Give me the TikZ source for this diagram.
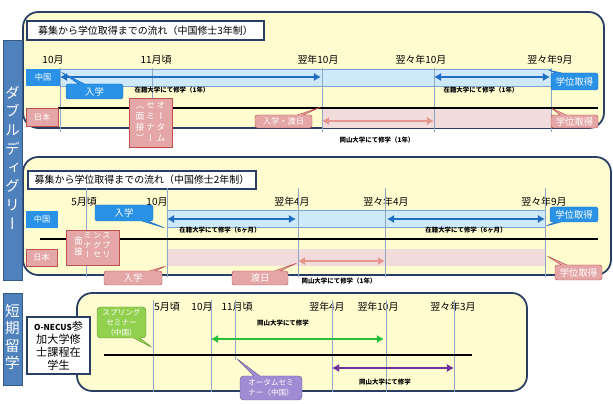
\documentclass[tikz,border=0pt]{standalone}
\usepackage{fontspec}
\setmainfont{Noto Sans CJK JP}
\newfontfamily\tatefont[RawFeature=+vert]{Noto Sans CJK JP}
\usetikzlibrary{arrows.meta,positioning,shapes.callouts}
\definecolor{panelYellow}{RGB}{255,253,208}
\definecolor{panelBorder}{RGB}{40,62,100}
\definecolor{labelBlue}{RGB}{79,129,189}
\definecolor{cnBlue}{RGB}{41,146,230}
\definecolor{cnBlueDark}{RGB}{31,110,195}
\definecolor{bandBlue}{RGB}{206,233,250}
\definecolor{bandBlueLine}{RGB}{120,165,210}
\definecolor{jpPink}{RGB}{228,166,166}
\definecolor{jpPinkDark}{RGB}{192,80,77}
\definecolor{bandPink}{RGB}{242,220,219}
\definecolor{arrowPink}{RGB}{230,150,145}
\definecolor{seminarGreen}{RGB}{146,208,80}
\definecolor{arrowGreen}{RGB}{40,190,60}
\definecolor{seminarPurple}{RGB}{160,140,210}
\definecolor{arrowPurple}{RGB}{112,48,160}
\definecolor{gridGray}{RGB}{140,168,196}
\newcommand{\pu}{0.03cm}
\newcommand{\tcol}[1]{\begin{tabular}[t]{@{}c@{}}#1\end{tabular}}

\begin{document}
\begin{tikzpicture}[x=\pu,y=-\pu,
  sz/.style 2 args={minimum width=#1*\pu,minimum height=#2*\pu},
  panel/.style={draw=panelBorder,fill=panelYellow,line width=1.5pt,rounded corners=13pt,inner sep=0pt},
  sidebar/.style={draw=labelBlue!70!black,fill=labelBlue,text=white,inner sep=0pt},
  heading/.style={draw=panelBorder,fill=white,line width=0.9pt,inner sep=0pt,font=\fontsize{8.5}{10}\selectfont},
  month/.style={inner sep=0pt,font=\fontsize{8.5}{10}\selectfont},
  note/.style={inner sep=0pt,font=\bfseries\fontsize{5.5}{6}\selectfont},
  cnbox/.style={fill=cnBlue,text=white,inner sep=0pt,font=\fontsize{7}{8}\selectfont},
  jpbox/.style={draw=jpPinkDark,fill=jpPink,text=white,inner sep=0pt,font=\fontsize{7}{8}\selectfont},
  bband/.style={draw=bandBlueLine,fill=bandBlue,inner sep=0pt},
  pband/.style={fill=bandPink,inner sep=0pt},
  bcall/.style={rectangle callout,callout pointer width=5pt,rounded corners=2pt,draw=cnBlueDark,fill=cnBlue,text=white,inner sep=0pt,font=\fontsize{8}{9}\selectfont},
  pcall/.style={rectangle callout,callout pointer width=5pt,rounded corners=2pt,draw=jpPinkDark,fill=jpPink,text=white,inner sep=0pt,font=\fontsize{8}{9}\selectfont},
  gcall/.style={rectangle callout,callout pointer width=5pt,rounded corners=3pt,draw=seminarGreen!70!black,fill=seminarGreen,text=white,inner sep=0pt,align=center,font=\fontsize{6.5}{8.5}\selectfont},
  vcall/.style={rectangle callout,callout pointer width=5pt,rounded corners=3pt,draw=seminarPurple!70!black,fill=seminarPurple,text=white,inner sep=0pt,align=center,font=\fontsize{6.5}{8.5}\selectfont},
  monthline/.style={draw=gridGray,line width=0.6pt},
  timeline/.style={line width=2.4pt},
  barrow/.style={arrows={Latex[length=6pt,width=7pt]-Latex[length=6pt,width=7pt]},line width=2.2pt,draw=cnBlueDark},
  parrow/.style={arrows={Latex[length=6pt,width=7pt]-Latex[length=6pt,width=7pt]},line width=2.2pt,draw=arrowPink},
  garrow/.style={arrows={Latex[length=6pt,width=7pt]-Latex[length=6pt,width=7pt]},line width=2.2pt,draw=arrowGreen},
  varrow/.style={arrows={Latex[length=6pt,width=7pt]-Latex[length=6pt,width=7pt]},line width=2.2pt,draw=arrowPurple}
]
  \useasboundingbox (0,0) rectangle (613,404);

  % panels and side labels
  \node[panel,sz={581}{116}] (pnlThree) at (313.5,70) {};
  \node[panel,sz={588}{118}] (pnlTwo) at (317,216) {};
  \node[panel,sz={450}{98}] (pnlShort) at (302,342) {};
  \node[sidebar,sz={19}{240},font=\tatefont\fontsize{12.5}{16}\selectfont] (sideDD) at (12.5,160) {\tcol{ダ\\ブ\\ル\\デ\\ィ\\グ\\リ\\ー}};
  \node[sidebar,sz={19}{92},font=\tatefont\fontsize{12.5}{15}\selectfont] (sideST) at (12.5,339) {\tcol{短\\期\\留\\学}};

  % 3-year course
  \node[heading,sz={237}{19}] (hdThree) at (145.5,30.5) {募集から学位取得までの流れ（中国修士3年制）};
  \node[month] (mA1) at (53,60) {10月};
  \node[month] (mA2) at (156,60) {11月頃};
  \node[month] (mA3) at (318,60) {翌年10月};
  \node[month] (mA4) at (421,60) {翌々年10月};
  \node[month] (mA5) at (550,60) {翌々年9月};
  \node[bband,sz={491}{17}] (bandA1) at (305.5,77.5) {};
  \node[pband,sz={229}{20}] (bandA2) at (436.5,118) {};
  \foreach \x in {60,322,434,551} \draw[monthline] (\x,68) -- (\x,132);
  \draw[monthline] (152,68) -- (152,98);
  \draw[timeline] (58,108) -- (598,108);
  \coordinate (bA1) at (60,77); \coordinate (bA2) at (321,77);
  \coordinate (bA3) at (434,77); \coordinate (bA4) at (550,77);
  \coordinate (pA1) at (322,121); \coordinate (pA2) at (434,121);
  \draw[barrow] (bA1) -- (bA2);
  \draw[barrow] (bA3) -- (bA4);
  \draw[parrow] (pA1) -- (pA2);
  \node[note] (ntA1) at (172,90) {在籍大学にて修学（1年）};
  \node[note] (ntA2) at (481,90) {在籍大学にて修学（1年）};
  \node[note] (ntA3) at (377,140) {岡山大学にて修学（1年）};
  \node[cnbox,sz={34}{17}] (cnA) at (43,77.5) {中国};
  \node[jpbox,sz={32}{18}] (jpA) at (42,117) {日本};
  \node[bcall,sz={57}{15},callout absolute pointer={(61,72)}] (enA) at (94.5,91.5) {入学};
  \node[jpbox,sz={43}{49},font=\tatefont\fontsize{7.5}{9.4}\selectfont] (semA) at (150.5,122.5)
    {\tcol{（\\面\\接\\）}\hspace{1.5pt}\tcol{セ\\ミ\\ナ\\ー}\hspace{1.5pt}\tcol{オ\\ー\\タ\\ム}};
  \node[pcall,sz={57}{13},font=\fontsize{7}{8}\selectfont,callout absolute pointer={(321,107)}] (arrA) at (283.5,121.5) {入学・渡日};
  \node[bcall,sz={47}{17},callout absolute pointer={(548,70)}] (dgA1) at (574.5,81.5) {学位取得};
  \node[pcall,sz={47}{13},callout absolute pointer={(551,108)}] (dgA2) at (574.5,121.5) {学位取得};

  % 2-year course
  \node[heading,sz={228}{18}] (hdTwo) at (142,180) {募集から学位取得までの流れ（中国修士2年制）};
  \node[month] (mB1) at (84,202) {5月頃};
  \node[month] (mB2) at (157,202) {10月};
  \node[month] (mB3) at (292,202) {翌年4月};
  \node[month] (mB4) at (386,202) {翌々年4月};
  \node[month] (mB5) at (544,202) {翌々年9月};
  \node[bband,sz={378}{17}] (bandB1) at (356,218.5) {};
  \node[pband,sz={378}{17}] (bandB2) at (356,257.5) {};
  \foreach \x in {86,167,298,385,545} \draw[monthline] (\x,188) -- (\x,277);
  \draw[timeline] (40,239) -- (598,239);
  \coordinate (bB1) at (167,219); \coordinate (bB2) at (296,219);
  \coordinate (bB3) at (387,219); \coordinate (bB4) at (545,219);
  \coordinate (pB1) at (298,261); \coordinate (pB2) at (385,261);
  \draw[barrow] (bB1) -- (bB2);
  \draw[barrow] (bB3) -- (bB4);
  \draw[parrow] (pB1) -- (pB2);
  \node[note] (ntB1) at (220,230) {在籍大学にて修学（6ヶ月）};
  \node[note] (ntB2) at (466,230) {在籍大学にて修学（6ヶ月）};
  \node[note] (ntB3) at (339,281) {岡山大学にて修学（1年）};
  \node[cnbox,sz={32}{17}] (cnB) at (42,219.5) {中国};
  \node[jpbox,sz={31}{17}] (jpB) at (41.5,257.5) {日本};
  \node[bcall,sz={58}{16},callout absolute pointer={(165,228)}] (enB1) at (124,213) {入学};
  \node[jpbox,sz={53}{35},font=\tatefont\fontsize{7}{8.5}\selectfont] (semB) at (92.5,247.5)
    {\tcol{（\\[-3pt]面\\接\\[-3pt]）}\hspace{1pt}\tcol{ミ\\ナ\\ー}\hspace{1pt}\tcol{ン\\グ\\セ}\hspace{1pt}\tcol{ス\\プ\\リ}};
  \node[pcall,sz={58}{14},callout absolute pointer={(166,266)}] (enB2) at (133,278) {入学};
  \node[pcall,sz={56}{14},callout absolute pointer={(297,263)}] (flyB) at (260,278) {渡日};
  \node[bcall,sz={48}{15},callout absolute pointer={(546,226)}] (dgB1) at (574,214.5) {学位取得};
  \node[pcall,sz={47}{15},callout absolute pointer={(547,256)}] (dgB2) at (578.5,272.5) {学位取得};

  % short-term study
  \node[month] (mC1) at (167,307) {5月頃};
  \node[month] (mC2) at (202,307) {10月};
  \node[month] (mC3) at (237,307) {11月頃};
  \node[month] (mC4) at (327,307) {翌年4月};
  \node[month] (mC5) at (378,307) {翌年10月};
  \node[month] (mC6) at (453,307) {翌々年3月};
  \foreach \x in {153,211,332,386,454} \draw[monthline] (\x,300) -- (\x,392);
  \draw[monthline] (235,300) -- (235,360);
  \draw[timeline] (104,355) -- (472,355);
  \coordinate (gC1) at (211,339); \coordinate (gC2) at (384,339);
  \coordinate (vC1) at (332,368); \coordinate (vC2) at (454,368);
  \draw[garrow] (gC1) -- (gC2);
  \draw[varrow] (vC1) -- (vC2);
  \node[note] (ntC1) at (283,323) {岡山大学にて修学};
  \node[note] (ntC2) at (385,382) {岡山大学にて修学};
  \node[draw=panelBorder,line width=1pt,fill=white,sz={63}{57},inner sep=0pt,align=center,font=\fontsize{9.5}{11}\selectfont] (onecus) at (58.5,345.5)
    {{\bfseries\fontsize{7}{8}\selectfont O-NECUS}参\\加大学修\\士課程在\\学生};
  \node[gcall,sz={49}{31},callout absolute pointer={(153,348)}] (spC) at (121.5,322.5) {スプリング\\セミナー\\（中国）};
  \node[vcall,sz={62}{24},callout absolute pointer={(236,358)}] (auC) at (271,388) {オータムセミ\\ナー（中国）};
\end{tikzpicture}
\end{document}
